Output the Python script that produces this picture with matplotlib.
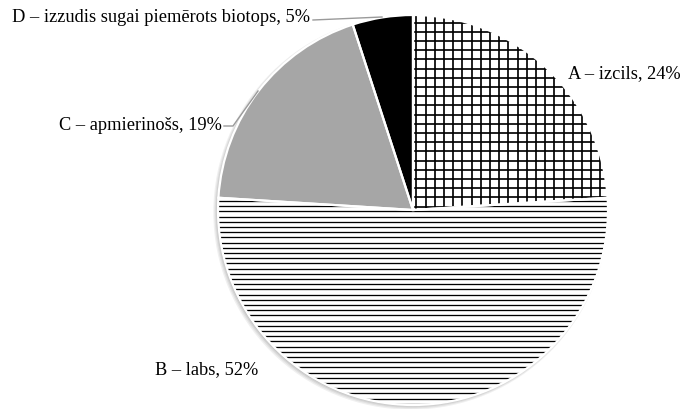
import numpy as np
import matplotlib.pyplot as plt
from matplotlib.collections import LineCollection
from matplotlib.patches import Circle, Wedge

plt.rcParams["font.family"] = ["Liberation Serif", "DejaVu Serif"]

DPI = 100
W, H = 683, 409
CX, CY, R = 413, 210, 195

labels = ["A – izcils, 24%", "B – labs, 52%", "C – apmierinošs, 19%",
          "D – izzudis sugai piemērots biotops, 5%"]
values = [24, 52, 19, 5]
colors = ["white", "white", "#a6a6a6", "black"]
# hatch style per slice: (draw vertical lines?, spacing px, line width px)
hatch_style = [(True, 9.2, 1.7), (False, 5.2, 1.3), None, None]


def px(x, y):
    return (x - CX) / R, (CY - y) / R


def lw_pt(p):
    return p * 72 / DPI


fig = plt.figure(figsize=(W / DPI, H / DPI), dpi=DPI)
ax = fig.add_axes([0, 0, 1, 1])

# soft shadow behind the pie
for i, a in enumerate([0.06, 0.06, 0.07, 0.08]):
    off = 0.012 - i * 0.002
    ax.add_patch(Circle((-off, -off), 1.0 + 0.012 - i * 0.004, color="black",
                        alpha=a, lw=0, zorder=0))

wedges, _ = ax.pie(values, colors=colors, startangle=90, counterclock=False,
                   radius=1.0, wedgeprops=dict(linewidth=0))
for w, hs in zip(wedges, hatch_style):
    w.set_zorder(1)
    if hs:
        vert, step, lw = hs
        d = step / R
        ticks = np.arange(-1.02, 1.03, d)
        segs = [[(-1.05, t), (1.05, t)] for t in ticks]
        if vert:
            segs += [[(t, -1.05), (t, 1.05)] for t in ticks]
        lc = LineCollection(segs, colors="black", linewidths=lw_pt(lw), zorder=1.5)
        lc.set_clip_path(w)
        ax.add_collection(lc)
    ax.add_patch(Wedge(w.center, w.r, w.theta1, w.theta2, fill=False,
                       edgecolor="white", linewidth=1.6, zorder=2))

fs = 13.2
ax.text(*px(310, 18), labels[3], ha="right", va="center", fontsize=fs)
ax.text(*px(222, 126), labels[2], ha="right", va="center", fontsize=fs)
ax.text(*px(568, 74), labels[0], ha="left", va="center", fontsize=fs)
ax.text(*px(155, 370), labels[1], ha="left", va="center", fontsize=fs)

lc = "#9a9a9a"
d1, d2 = px(313, 20), px(382, 17)
ax.plot([d1[0], d2[0]], [d1[1], d2[1]], color=lc, lw=1.0)
c1, c2, c3 = px(224, 126), px(233, 126), px(258, 91)
ax.plot([c1[0], c2[0], c3[0]], [c1[1], c2[1], c3[1]], color=lc, lw=1.0)

ax.set_xlim(-CX / R, (W - CX) / R)
ax.set_ylim(-(H - CY) / R, CY / R)
ax.axis("off")

fig.savefig("out.png", dpi=DPI)
